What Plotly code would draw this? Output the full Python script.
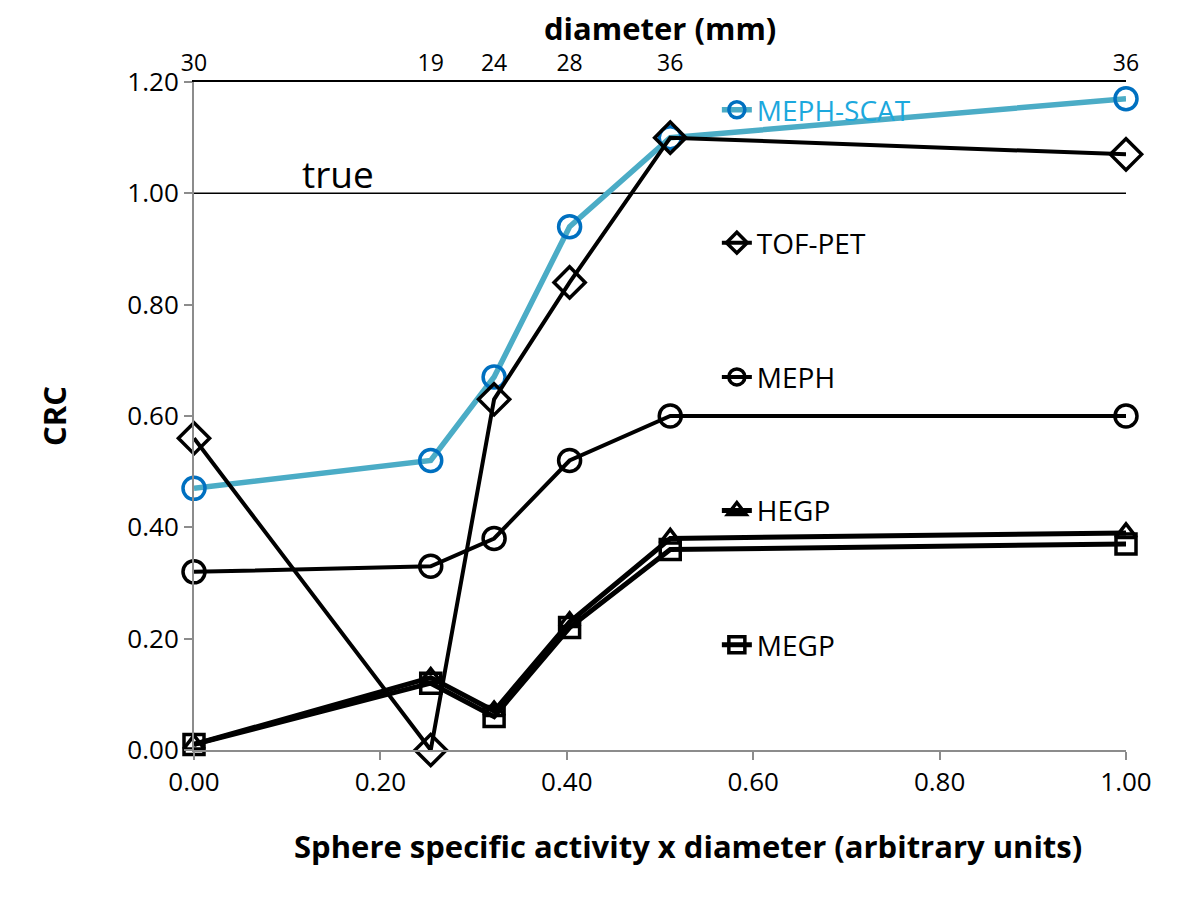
import plotly.graph_objects as go

# Data
x_activity = [0.0, 0.254, 0.322, 0.403, 0.511, 1.0]
diameter_labels = ["30", "19", "24", "28", "36", "36"]
meph_scat = [0.47, 0.52, 0.67, 0.94, 1.10, 1.17]
tof_pet = [0.56, 0.00, 0.63, 0.84, 1.10, 1.07]
meph = [0.32, 0.33, 0.38, 0.52, 0.60, 0.60]
hegp = [0.01, 0.13, 0.07, 0.23, 0.38, 0.39]
megp = [0.01, 0.12, 0.06, 0.22, 0.36, 0.37]
true_crc = 1.0
x_ticks = [0.0, 0.2, 0.4, 0.6, 0.8, 1.0]
y_ticks = [0.0, 0.2, 0.4, 0.6, 0.8, 1.0, 1.2]

FONT = "Open Sans"
fig = go.Figure()

series = [
    ("MEPH-SCAT", meph_scat, "#4BACC6", "#0070C0", "circle-open", 22, 5.5, "legend"),
    ("TOF-PET", tof_pet, "black", "black", "diamond-open", 24, 4, "legend2"),
    ("MEPH", meph, "black", "black", "circle-open", 22, 4, "legend3"),
    ("HEGP", hegp, "black", "black", "triangle-up-open", 18, 5, "legend4"),
    ("MEGP", megp, "black", "black", "square-open", 20, 5, "legend5"),
]
for name, vals, lc, mc, sym, ms, lw, lg in series:
    fig.add_trace(go.Scatter(
        x=x_activity, y=vals, name=name, mode="lines+markers",
        line=dict(color=lc, width=lw),
        marker=dict(symbol=sym, size=ms, color=mc, line=dict(color=mc, width=3.5)),
        legend=lg, cliponaxis=False,
    ))

# invisible trace to activate top axis
fig.add_trace(go.Scatter(x=x_activity, y=meph, xaxis="x2", mode="markers",
                         marker=dict(opacity=0), showlegend=False, hoverinfo="skip"))

fig.add_hline(y=true_crc, line=dict(color="black", width=1.5), layer="below")
fig.add_annotation(x=0.155, y=true_crc, yanchor="bottom", text="true", showarrow=False,
                   font=dict(family=FONT, size=37, color="black"), yshift=-8)
fig.add_annotation(x=0.53, y=-0.143, xref="paper", yref="paper", yanchor="middle",
                   text="<b>Sphere specific activity x diameter (arbitrary units)</b>",
                   showarrow=False, font=dict(family=FONT, size=31, color="black"))
fig.add_annotation(x=0.5, y=1.0, xref="paper", yref="paper", yanchor="middle",
                   yshift=54, text="<b>diameter (mm)</b>",
                   showarrow=False, font=dict(family=FONT, size=31, color="black"))

leg_common = dict(bgcolor="rgba(0,0,0,0)", borderwidth=0, xanchor="left", yanchor="middle",
                  itemsizing="trace")
legend_x = 0.561
LEG_SIZE = 28
fig.update_layout(
    width=1200, height=901,
    margin=dict(l=186, r=82, t=74, b=159, autoexpand=False),
    paper_bgcolor="white", plot_bgcolor="white",
    font=dict(family=FONT, size=24, color="black"),
    legend=dict(x=legend_x, y=0.958, font=dict(family=FONT, size=LEG_SIZE, color="#1CA8DD"), **leg_common),
    legend2=dict(x=legend_x, y=0.759, font=dict(family=FONT, size=LEG_SIZE, color="black"), **leg_common),
    legend3=dict(x=legend_x, y=0.558, font=dict(family=FONT, size=LEG_SIZE, color="black"), **leg_common),
    legend4=dict(x=legend_x, y=0.358, font=dict(family=FONT, size=LEG_SIZE, color="black"), **leg_common),
    legend5=dict(x=legend_x, y=0.157, font=dict(family=FONT, size=LEG_SIZE, color="black"), **leg_common),
    xaxis=dict(range=[0, 1.0], tickvals=x_ticks, tickformat=".2f", showgrid=False, zeroline=False,
               showline=True, linecolor="#8C8C8C", linewidth=2, ticks="outside", ticklen=8,
               tickcolor="#8C8C8C", tickwidth=2, tickfont=dict(size=26)),
    xaxis2=dict(range=[0, 1.0], overlaying="x", side="top", tickvals=x_activity,
                ticktext=diameter_labels, showgrid=False, zeroline=False, showline=True,
                linecolor="black", linewidth=1.5, ticks="", tickfont=dict(size=23)),
    yaxis=dict(range=[0, 1.2], tickvals=y_ticks, tickformat=".2f", showgrid=False, zeroline=False,
               showline=True, linecolor="#8C8C8C", linewidth=2, ticks="outside", ticklen=8,
               tickcolor="#8C8C8C", tickwidth=2, tickfont=dict(size=26),
               title=dict(text="<b>CRC</b>", font=dict(size=31), standoff=52)),
)

fig.write_html("out.html")
